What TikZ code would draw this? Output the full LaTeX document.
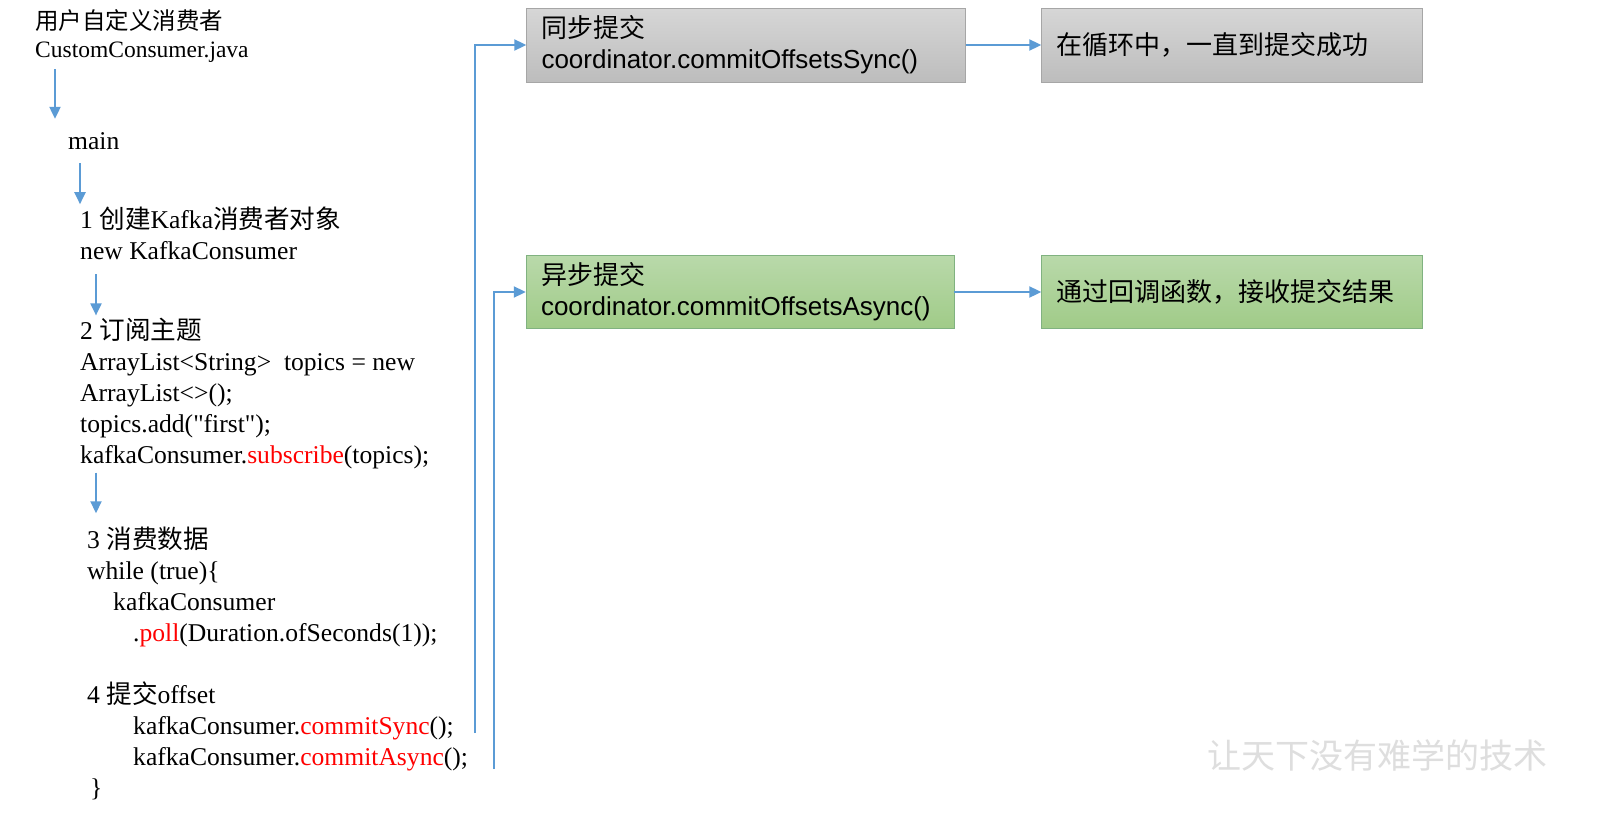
\documentclass[tikz,border=0pt]{standalone}
\usepackage{fontspec}
\setmainfont{Liberation Serif}
\newfontfamily\plainserif{Liberation Serif}
\newfontfamily\boxfont{Liberation Sans}
\newfontfamily\cjk{Noto Sans CJK SC}
\usepackage{xcolor}
\usetikzlibrary{arrows.meta,positioning,calc}

\definecolor{flowblue}{HTML}{5B9BD5}
\newcommand{\zh}[1]{{\cjk #1}}
\newcommand{\hl}[1]{\textcolor{red}{#1}}

\begin{document}
\begin{tikzpicture}[x=1pt, y=-1pt,
    code/.style={anchor=base west, inner sep=0pt, align=left,
        font=\fontsize{25.6}{31}\selectfont},
    syncbox/.style={rectangle, draw=black!35, top color=black!16, bottom color=black!26,
        text width=#1, align=left, inner xsep=15pt, minimum height=74pt,
        font=\fontsize{26}{31}\boxfont},
    asyncbox/.style={rectangle, draw=green!40!black!50, top color={rgb,255:red,185;green,217;blue,170},
        bottom color={rgb,255:red,160;green,203;blue,136},
        text width=#1, align=left, inner xsep=15pt, minimum height=73pt,
        font=\fontsize{26}{31}\boxfont},
    line/.style={draw=flowblue, line width=2pt, -{Triangle[length=12pt, width=11pt]}}]

    \useasboundingbox [fill=white] (0,0) rectangle (1604,814);

    % ====== Left column: consumer code ======
    \node [code, font=\fontsize{23.5}{28}\selectfont] (title) at (35,57)
        {\zh{用户自定义消费者}\\CustomConsumer.java};
    \node [code] (main) at (68,149) {main};
    \node [code] (create) at (80,259) {1 \zh{创建}Kafka\zh{消费者对象}\\new KafkaConsumer};
    \node [code] (subscribe) at (80,463)
        {2 \zh{订阅主题}\\ArrayList<String>\ \ topics = new\\ArrayList<>();\\topics.add({\plainserif"first"});\\kafkaConsumer.\hl{subscribe}(topics);};
    \node [code] (consume) at (87,641)
        {3 \zh{消费数据}\\while (true)\{\\\hspace*{26pt}kafkaConsumer\\\hspace*{46pt}.\hl{poll}(Duration.ofSeconds(1));};
    \node [code] (commit) at (87,796)
        {4 \zh{提交}offset\\\hspace*{46pt}kafkaConsumer.\hl{commitSync}();\\\hspace*{46pt}kafkaConsumer.\hl{commitAsync}();\\\hspace*{3pt}\}};

    % ====== Commit boxes ======
    \node [syncbox=409pt] (sync) at (746,45)
        {\zh{同步提交}\\coordinator.commitOffsetsSync()};
    \node [syncbox=351pt] (loop) at (1232,45) {\zh{在循环中，一直到提交成功}};
    \node [asyncbox=398pt] (async) at (740,292)
        {\zh{异步提交}\\coordinator.commitOffsetsAsync()};
    \node [asyncbox=351pt] (callback) at (1232,292) {\zh{通过回调函数，接收提交结果}};

    \node [text=black!13, font=\fontsize{34}{34}\cjk] (mark) at (1377,755) {让天下没有难学的技术};

    \coordinate (syncfoot)  at (475,733);
    \coordinate (asyncfoot) at (494,769);

    % ====== Lines ======
    \path [line] ([xshift=20pt, yshift=-7pt]title.south west) -- ([xshift=-13pt, yshift=13pt]main.north west);
    \path [line] ([xshift=12pt, yshift=-14pt]main.south west) -- ([yshift=2pt]create.north west);
    \path [line] ([xshift=16pt, yshift=-15pt]create.south west) -- ([xshift=16pt, yshift=2pt]subscribe.north west);
    \path [line] ([xshift=16pt, yshift=-4pt]subscribe.south west) -- ([xshift=9pt, yshift=13pt]consume.north west);
    \path [line] (syncfoot)  |- (sync.west);
    \path [line] (asyncfoot) |- (async.west);
    \path [line] (sync)  -- (loop);
    \path [line] (async) -- (callback);
\end{tikzpicture}
\end{document}
